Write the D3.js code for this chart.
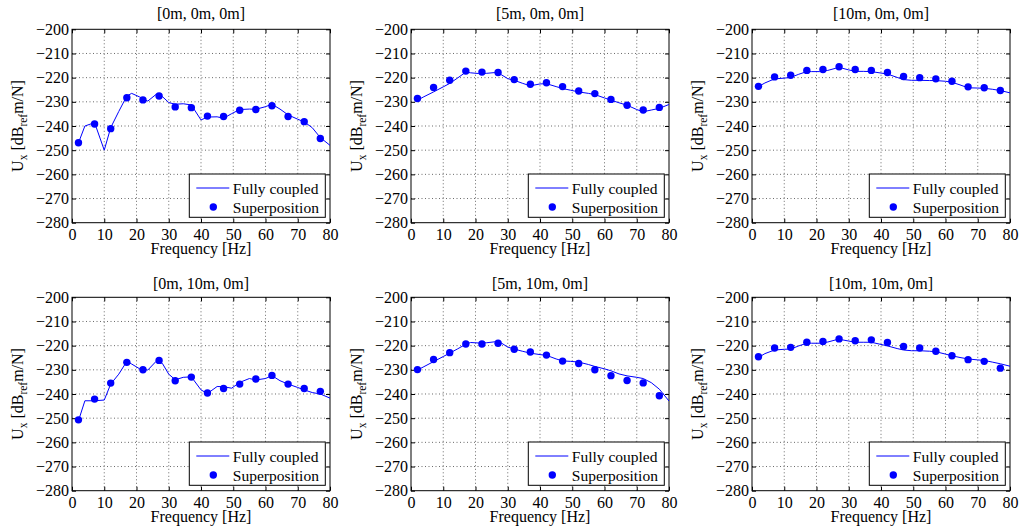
<!DOCTYPE html>
<html>
<head>
<meta charset="utf-8">
<script src="https://cdn.jsdelivr.net/npm/d3@7"></script>
<style>
  body { margin: 0; background: #fff; }
  svg text { font-family: "Liberation Serif", "DejaVu Serif", serif; }
</style>
</head>
<body>
<svg width="1019" height="528"></svg>
<script>
// frequencies of the two series
var lineFreq = [2, 4, 7, 10, 12, 14.5, 17, 18.5, 21, 23.5, 26, 28, 30, 32, 34.5, 37, 40, 42, 45, 47, 49.5, 52, 55, 57, 60, 62, 64.5, 67, 70, 72, 74.5, 77, 80];
var pointFreq = [2, 7, 12, 17, 22, 27, 32, 37, 42, 47, 52, 57, 62, 67, 72, 77];

var titles = ["[0m, 0m, 0m]", "[5m, 0m, 0m]", "[10m, 0m, 0m]", "[0m, 10m, 0m]", "[5m, 10m, 0m]", "[10m, 10m, 0m]"];

// Fully coupled (line)
var coupled_0_0 = [-247, -240, -238.6, -250, -240.7, -234, -227.6, -226.5, -228, -229.7, -227, -227.8, -230.3, -231, -230.8, -231.3, -237.5, -236.3, -236.2, -236.8, -234.9, -233.2, -233, -233.1, -232, -231, -233, -235.4, -237.2, -238.3, -240.7, -244.8, -248];
var coupled_5_0 = [-229.3, -227.9, -225.9, -223.8, -222.4, -220.1, -217.7, -218, -218.3, -218.2, -217.9, -218.8, -220.4, -221.1, -222.3, -223.4, -222.6, -222.5, -223.7, -224.5, -225.2, -225.9, -226.5, -227, -228.4, -229.3, -230.4, -231.4, -233.2, -234.1, -233.4, -232.7, -231.1];
var coupled_10_0 = [-223.7, -222.2, -220.5, -220.2, -219.9, -218.6, -217.5, -217.5, -217.5, -217, -216.1, -216.1, -216.8, -217.4, -217.4, -217.5, -218.1, -218.5, -219.9, -220.8, -221.1, -221.1, -221.2, -221.2, -221.5, -221.9, -223, -224.2, -224.3, -224.4, -224.8, -225.3, -226.3];
var coupled_0_10 = [-251.1, -242.8, -242.8, -242.5, -235.9, -231.8, -226.5, -227.6, -229.6, -230.1, -226.6, -227.3, -231.8, -234.1, -233.1, -232.9, -238.3, -239.8, -236.9, -237, -237.6, -235.2, -233.6, -234.2, -233.6, -232.4, -234.5, -235.9, -237.3, -238.3, -239.4, -240, -241.7];
var coupled_5_10 = [-230.1, -228.7, -226.6, -224.5, -223.1, -221.3, -219.4, -218.7, -218.9, -218.8, -218.4, -218.9, -220.6, -221.4, -222.3, -223.1, -223.7, -224, -225.5, -226.3, -226.5, -226.8, -227.8, -228.6, -229.6, -230.4, -231.7, -232.5, -233.1, -233.6, -235.3, -238, -242.9];
var coupled_10_10 = [-224.9, -223.3, -221.8, -221.5, -221.4, -220.1, -219, -219, -219, -218.5, -217.6, -217.6, -218.1, -218.6, -218.6, -218.6, -219.5, -220.1, -221.2, -221.8, -222.1, -222.1, -222.3, -222.5, -223.5, -224.2, -224.9, -225.5, -225.9, -226.1, -226.8, -227.5, -228.5];

// Superposition (dots)
var superpos_0_0 = [-246.9, -239.2, -241.1, -228.3, -229.2, -227.6, -232.1, -232.4, -235.9, -236.1, -233.5, -233.2, -231.6, -236.1, -238.2, -245.2];
var superpos_5_0 = [-228.6, -224.1, -221.1, -217.3, -217.7, -217.9, -220.8, -222.7, -222.1, -223.7, -225.5, -226.6, -229.0, -231.4, -233.4, -232.3];
var superpos_10_0 = [-223.6, -219.7, -219.0, -217.0, -216.6, -215.5, -216.6, -217.0, -217.9, -219.5, -220.0, -220.5, -221.5, -223.8, -224.2, -225.3];
var superpos_0_10 = [-250.7, -242.1, -235.5, -226.9, -230.0, -226.1, -234.5, -233.0, -239.6, -237.7, -235.9, -233.8, -232.3, -235.9, -237.7, -238.9];
var superpos_5_10 = [-229.9, -225.7, -222.9, -219.3, -219.3, -219.0, -221.5, -222.6, -223.9, -226.4, -227.4, -230.0, -232.4, -234.4, -235.4, -240.7];
var superpos_10_10 = [-224.6, -221.0, -220.7, -218.6, -218.3, -217.2, -218.0, -217.6, -218.7, -220.3, -221.0, -222.3, -224.2, -225.8, -226.5, -229.3];

var xTicks = [0, 10, 20, 30, 40, 50, 60, 70, 80];
var yTicks = [-280, -270, -260, -250, -240, -230, -220, -210, -200];

var coupled = [coupled_0_0, coupled_5_0, coupled_10_0, coupled_0_10, coupled_5_10, coupled_10_10];
var superpos = [superpos_0_0, superpos_5_0, superpos_10_0, superpos_0_10, superpos_5_10, superpos_10_10];

var svg = d3.select("svg"),
    colLeft = [72, 411, 752],
    rowTop = [29.3, 297.3],
    titleDy = [-10.5, -8.5],
    width = 258,
    height = 193.4,
    fs = 16,
    blue = "#0000ff";

var x = d3.scaleLinear().domain([0, 80]).range([0, width]);
var y = d3.scaleLinear().domain([-280, -200]).range([height, 0]);
var fmt = d3.format("d");

titles.forEach(function(title, i) {
    var row = Math.floor(i / 3);
    var g = svg.append("g")
        .attr("transform", "translate(" + colLeft[i % 3] + "," + rowTop[row] + ")");

    // dotted grid
    g.append("g").selectAll("line").data(xTicks.slice(1, -1)).enter().append("line")
        .attr("x1", function(d) { return x(d); }).attr("x2", function(d) { return x(d); })
        .attr("y1", 0).attr("y2", height)
        .attr("stroke", "#444").attr("stroke-width", 0.8).attr("stroke-dasharray", "1,2.5");
    g.append("g").selectAll("line").data(yTicks.slice(1, -1)).enter().append("line")
        .attr("y1", function(d) { return y(d); }).attr("y2", function(d) { return y(d); })
        .attr("x1", 0).attr("x2", width)
        .attr("stroke", "#444").attr("stroke-width", 0.8).attr("stroke-dasharray", "1,2.5");

    // axes, ticks pointing inward on all sides
    g.append("g").attr("transform", "translate(0," + height + ")")
        .call(d3.axisBottom(x).tickValues(xTicks).tickSizeInner(-4).tickSizeOuter(0).tickPadding(5.5).tickFormat(fmt));
    g.append("g")
        .call(d3.axisTop(x).tickValues(xTicks).tickSizeInner(-4).tickSizeOuter(0).tickFormat(""));
    g.append("g")
        .call(d3.axisLeft(y).tickValues(yTicks).tickSizeInner(-4).tickSizeOuter(0).tickPadding(3).tickFormat(fmt));
    g.append("g").attr("transform", "translate(" + width + ",0)")
        .call(d3.axisRight(y).tickValues(yTicks).tickSizeInner(-4).tickSizeOuter(0).tickFormat(""));
    g.selectAll(".domain").remove();
    g.selectAll("g").attr("font-family", null);
    g.selectAll(".tick text").attr("font-size", fs).attr("fill", "#000");
    g.append("rect").attr("width", width).attr("height", height)
        .attr("fill", "none").attr("stroke", "#000").attr("stroke-width", 1);

    // data
    var line = d3.line()
        .x(function(d, j) { return x(lineFreq[j]); })
        .y(function(d) { return y(d); });
    g.append("path").datum(coupled[i])
        .attr("fill", "none").attr("stroke", blue).attr("stroke-width", 1)
        .attr("d", line);
    g.append("g").selectAll("circle").data(superpos[i]).enter().append("circle")
        .attr("cx", function(d, j) { return x(pointFreq[j]); })
        .attr("cy", function(d) { return y(d); })
        .attr("r", 3.7).attr("fill", blue);

    // title and labels
    g.append("text").attr("x", width / 2).attr("y", titleDy[row])
        .attr("text-anchor", "middle").attr("font-size", fs).text(title);
    g.append("text").attr("x", width / 2).attr("y", height + 31.5)
        .attr("text-anchor", "middle").attr("font-size", fs).text("Frequency [Hz]");
    var yl = g.append("text")
        .attr("transform", "translate(-49.5," + (height / 2) + ") rotate(-90)")
        .attr("text-anchor", "middle").attr("font-size", fs);
    yl.append("tspan").text("U");
    yl.append("tspan").attr("font-size", 11.5).attr("dy", 4.5).text("x");
    yl.append("tspan").attr("dy", -4.5).text(" [dB");
    yl.append("tspan").attr("font-size", 11.5).attr("dy", 4.5).text("ref");
    yl.append("tspan").attr("dy", -4.5).text("m/N]");

    // legend
    var lg = g.append("g").attr("transform", "translate(117.3," + (height - 48.7) + ")");
    lg.append("rect").attr("width", 136).attr("height", 43.3)
        .attr("fill", "#fff").attr("stroke", "#000").attr("stroke-width", 1);
    lg.append("line").attr("x1", 7).attr("x2", 40).attr("y1", 14).attr("y2", 14)
        .attr("stroke", blue).attr("stroke-width", 1);
    lg.append("text").attr("x", 43.5).attr("y", 19.5).attr("font-size", 15.5).text("Fully coupled");
    lg.append("circle").attr("cx", 24).attr("cy", 33).attr("r", 3.7).attr("fill", blue);
    lg.append("text").attr("x", 43.5).attr("y", 38.5).attr("font-size", 15.5).text("Superposition");
});
</script>
</body>
</html>
